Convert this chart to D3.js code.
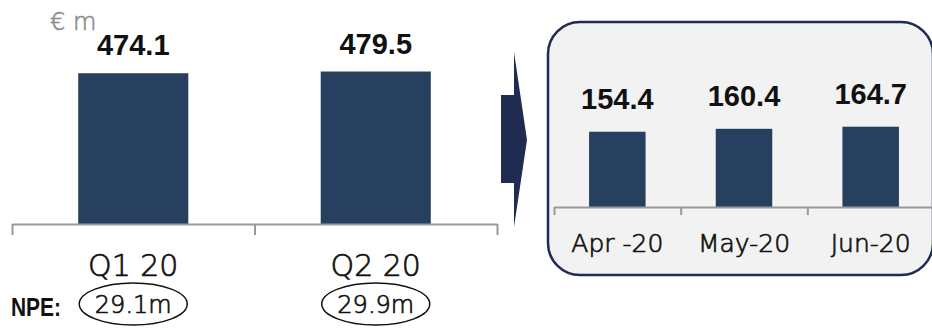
<!DOCTYPE html>
<html>
<head>
<meta charset="utf-8">
<script src="https://cdn.jsdelivr.net/npm/d3@7"></script>
<style>
  body { margin: 0; background: #fff; }
  svg { display: block; }
  .val { font-family: 'Liberation Sans', Arial, sans-serif; font-weight: bold; fill: #111; }
  .cat { font-family: 'DejaVu Sans', sans-serif; font-weight: 200; fill: #111; stroke: #111; stroke-width: 0.7px; }
</style>
</head>
<body>
<svg id="chart"></svg>
<script>
const w = 932;
const h = 330;

// quarterly interest income
const quarters = ['Q1 20', 'Q2 20'];
const quarterValues = [474.1, 479.5];
const npeLabels = ['29.1m', '29.9m'];

// monthly breakdown of Q2
const months = ['Apr -20', 'May-20', 'Jun-20'];
const monthValues = [154.4, 160.4, 164.7];

const barColor = '#284060';
const navy = '#1f2b50';

const svg = d3.select('#chart')
  .attr('width', w)
  .attr('height', h);

// ---------- left chart ----------
const x1 = d3.scaleBand()
  .domain(quarters)
  .range([12, 497])
  .paddingInner(0.546)
  .paddingOuter(0.273);

const y1 = d3.scaleLinear()
  .domain([0, 500])
  .range([224, 65]);

svg.append('text')
  .attr('x', 50)
  .attr('y', 30)
  .style('font-family', "'DejaVu Sans', sans-serif")
  .style('font-weight', 200)
  .style('font-size', '24px')
  .attr('fill', '#8c8c8c')
  .attr('stroke', '#8c8c8c')
  .attr('stroke-width', 0.6)
  .text('€ m');

svg.append('g').selectAll('rect')
  .data(quarterValues)
  .enter()
  .append('rect')
  .attr('x', (d, i) => x1(quarters[i]))
  .attr('width', x1.bandwidth())
  .attr('y', d => y1(d))
  .attr('height', d => y1(0) - y1(d))
  .attr('fill', barColor);

svg.append('g').selectAll('text')
  .data(quarterValues)
  .enter()
  .append('text')
  .attr('class', 'val')
  .attr('x', (d, i) => x1(quarters[i]) + x1.bandwidth() / 2)
  .attr('y', d => y1(d) - 18)
  .attr('text-anchor', 'middle')
  .style('font-size', '29px')
  .text(d => d.toFixed(1));

// axis with ticks on band edges
const edge1 = d3.scaleLinear().domain([0, quarters.length]).range(x1.range());
const ax1 = svg.append('g')
  .attr('transform', `translate(0,${y1(0)})`)
  .call(d3.axisBottom(edge1).tickValues(d3.range(quarters.length + 1)).tickFormat('').tickSize(11).tickSizeOuter(0));
ax1.select('.domain').attr('stroke', '#999').attr('stroke-width', 2);
ax1.selectAll('.tick line').attr('stroke', '#999').attr('stroke-width', 2);

svg.append('g').selectAll('text')
  .data(quarters)
  .enter()
  .append('text')
  .attr('class', 'cat')
  .attr('x', d => x1(d) + x1.bandwidth() / 2)
  .attr('y', 276)
  .attr('text-anchor', 'middle')
  .style('font-size', '30px')
  .text(d => d);

// NPE row
svg.append('text')
  .attr('x', 11)
  .attr('y', 316)
  .attr('textLength', 50)
  .attr('lengthAdjust', 'spacingAndGlyphs')
  .style('font-family', "'Liberation Sans', sans-serif")
  .style('font-weight', 'bold')
  .style('font-size', '25px')
  .attr('fill', '#111')
  .text('NPE:');

const npe = svg.append('g').selectAll('g')
  .data(npeLabels)
  .enter()
  .append('g')
  .attr('transform', (d, i) => `translate(${x1(quarters[i]) + x1.bandwidth() / 2},304)`);

npe.append('ellipse')
  .attr('rx', 54)
  .attr('ry', 21)
  .attr('fill', 'none')
  .attr('stroke', '#111')
  .attr('stroke-width', 1.5);

npe.append('text')
  .attr('class', 'cat')
  .attr('y', 9)
  .attr('text-anchor', 'middle')
  .style('font-size', '24px')
  .text(d => d);

// ---------- arrow ----------
svg.append('path')
  .attr('d', 'M501,95 L514,95 L514,52 L527,140 L514,227 L514,183 L501,183 Z')
  .attr('fill', navy);

// ---------- right panel ----------
svg.append('rect')
  .attr('x', 548)
  .attr('y', 22)
  .attr('width', 385)
  .attr('height', 253)
  .attr('rx', 32)
  .attr('fill', '#f2f2f2')
  .attr('stroke', navy)
  .attr('stroke-width', 2.5);

const x2 = d3.scaleBand()
  .domain(months)
  .range([554, 934])
  .paddingInner(0.554)
  .paddingOuter(0.277);

const y2 = d3.scaleLinear()
  .domain([0, 200])
  .range([207, 109.5]);

svg.append('g').selectAll('rect')
  .data(monthValues)
  .enter()
  .append('rect')
  .attr('x', (d, i) => x2(months[i]))
  .attr('width', x2.bandwidth())
  .attr('y', d => y2(d))
  .attr('height', d => y2(0) - y2(d))
  .attr('fill', barColor);

svg.append('g').selectAll('text')
  .data(monthValues)
  .enter()
  .append('text')
  .attr('class', 'val')
  .attr('x', (d, i) => x2(months[i]) + x2.bandwidth() / 2)
  .attr('y', d => y2(d) - 23)
  .attr('text-anchor', 'middle')
  .style('font-size', '29px')
  .text(d => d.toFixed(1));

const edge2 = d3.scaleLinear().domain([0, months.length]).range(x2.range());
const ax2 = svg.append('g')
  .attr('transform', `translate(0,${y2(0)})`)
  .call(d3.axisBottom(edge2).tickValues(d3.range(months.length)).tickFormat('').tickSize(8).tickSizeOuter(0));
ax2.select('.domain').attr('stroke', '#999').attr('stroke-width', 2);
ax2.selectAll('.tick line').attr('stroke', '#999').attr('stroke-width', 2);

svg.append('g').selectAll('text')
  .data(months)
  .enter()
  .append('text')
  .attr('class', 'cat')
  .attr('x', d => x2(d) + x2.bandwidth() / 2)
  .attr('y', 252)
  .attr('text-anchor', 'middle')
  .style('font-size', '25px')
  .text(d => d);
</script>
</body>
</html>
